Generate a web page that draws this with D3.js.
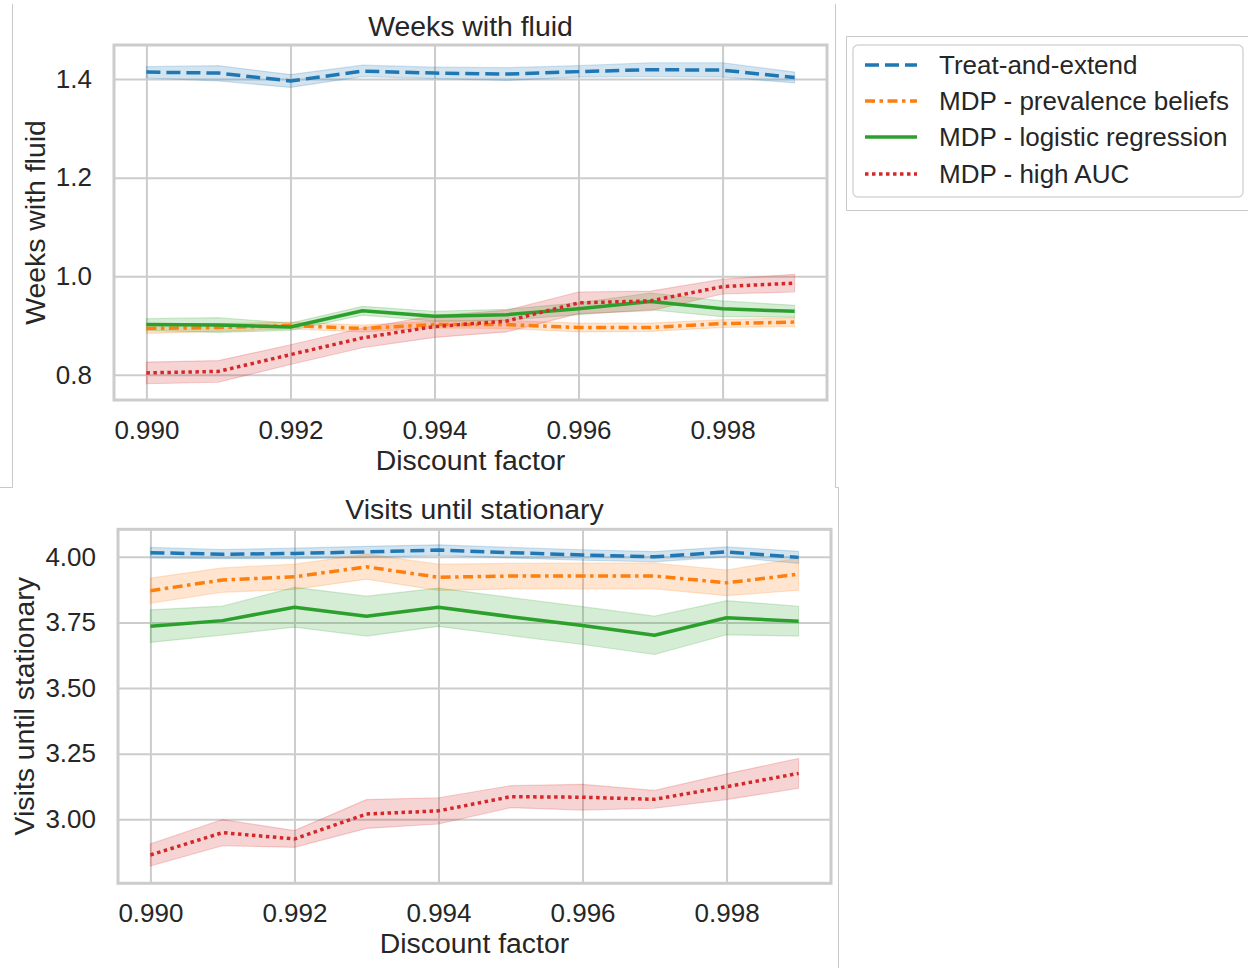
<!DOCTYPE html>
<html>
<head>
<meta charset="utf-8">
<script src="https://cdn.jsdelivr.net/npm/d3@7"></script>
<style>
  html, body { margin: 0; padding: 0; background: #ffffff; }
  svg { display: block; font-family: "Liberation Sans", Arial, sans-serif; }
</style>
</head>
<body>
<svg id="chart" width="1248" height="968"></svg>
<script>
// Discount factors on the x axis
const discount = [0.990, 0.991, 0.992, 0.993, 0.994, 0.995, 0.996, 0.997, 0.998, 0.999];
const xTicks = [0.990, 0.992, 0.994, 0.996, 0.998];

const seriesNames = ["Treat-and-extend", "MDP - prevalence beliefs", "MDP - logistic regression", "MDP - high AUC"];
const seriesColors = ["#1f77b4", "#ff7f0e", "#2ca02c", "#d62728"];
const seriesDashes = ["14,6", "10,4.5,3.5,4.5", null, "3.5,3.5"];

// Weeks with fluid: mean and confidence band per policy
const weeksTreatExtend   = [1.414, 1.412, 1.396, 1.416, 1.412, 1.410, 1.415, 1.419, 1.418, 1.403];
const weeksTreatExtendLo = [1.402, 1.396, 1.383, 1.405, 1.401, 1.397, 1.404, 1.405, 1.404, 1.392];
const weeksTreatExtendHi = [1.425, 1.427, 1.409, 1.428, 1.424, 1.423, 1.427, 1.433, 1.433, 1.414];

const weeksPrevalence   = [0.894, 0.896, 0.900, 0.894, 0.902, 0.902, 0.896, 0.896, 0.904, 0.907];
const weeksPrevalenceLo = [0.884, 0.888, 0.893, 0.887, 0.895, 0.894, 0.887, 0.888, 0.896, 0.898];
const weeksPrevalenceHi = [0.903, 0.904, 0.907, 0.901, 0.909, 0.910, 0.905, 0.905, 0.912, 0.916];

const weeksLogistic   = [0.902, 0.901, 0.897, 0.930, 0.919, 0.922, 0.934, 0.949, 0.934, 0.929];
const weeksLogisticLo = [0.890, 0.886, 0.890, 0.921, 0.909, 0.911, 0.922, 0.932, 0.918, 0.917];
const weeksLogisticHi = [0.914, 0.916, 0.905, 0.939, 0.929, 0.933, 0.946, 0.966, 0.950, 0.941];

const weeksHighAUC   = [0.804, 0.807, 0.841, 0.875, 0.898, 0.909, 0.946, 0.950, 0.979, 0.986];
const weeksHighAUCLo = [0.782, 0.785, 0.821, 0.855, 0.876, 0.887, 0.924, 0.930, 0.964, 0.968];
const weeksHighAUCHi = [0.826, 0.829, 0.861, 0.895, 0.920, 0.931, 0.968, 0.970, 0.994, 1.004];

const weeksTicks = [0.8, 1.0, 1.2, 1.4];

// Visits until stationary: mean and confidence band per policy
const visitsTreatExtend   = [4.016, 4.010, 4.013, 4.019, 4.026, 4.016, 4.007, 4.000, 4.019, 3.998];
const visitsTreatExtendLo = [3.996, 3.993, 3.993, 3.998, 4.006, 3.996, 3.987, 3.981, 4.000, 3.975];
const visitsTreatExtendHi = [4.036, 4.028, 4.033, 4.040, 4.046, 4.036, 4.027, 4.020, 4.038, 4.021];

const visitsPrevalence   = [3.871, 3.912, 3.924, 3.962, 3.922, 3.927, 3.927, 3.927, 3.901, 3.934];
const visitsPrevalenceLo = [3.823, 3.865, 3.876, 3.915, 3.872, 3.878, 3.878, 3.878, 3.852, 3.873];
const visitsPrevalenceHi = [3.919, 3.958, 3.972, 4.010, 3.972, 3.975, 3.976, 3.976, 3.950, 3.995];

const visitsLogistic   = [3.736, 3.757, 3.808, 3.774, 3.808, 3.772, 3.738, 3.701, 3.768, 3.755];
const visitsLogisticLo = [3.674, 3.702, 3.732, 3.698, 3.735, 3.700, 3.666, 3.628, 3.703, 3.698];
const visitsLogisticHi = [3.798, 3.812, 3.884, 3.850, 3.881, 3.845, 3.810, 3.774, 3.833, 3.812];

const visitsHighAUC   = [2.864, 2.949, 2.925, 3.020, 3.032, 3.086, 3.084, 3.076, 3.124, 3.175];
const visitsHighAUCLo = [2.822, 2.899, 2.893, 2.965, 2.982, 3.044, 3.035, 3.042, 3.075, 3.118];
const visitsHighAUCHi = [2.906, 2.999, 2.957, 3.075, 3.082, 3.128, 3.133, 3.110, 3.173, 3.232];

const visitsTicks = [3.00, 3.25, 3.50, 3.75, 4.00];

const TEXT = "#262626";
const GRID = "#cccccc";
const TICK_FONT = 26;
const LABEL_FONT = 28.4;

const svg = d3.select("#chart");

// Thin borders around the separate figure pieces
const borders = svg.append("g").attr("stroke", "#c9c9c9").attr("stroke-width", 1).attr("fill", "none");
[
  [12.5, 4, 12.5, 487.5], [0, 487.5, 12.5, 487.5],
  [835.5, 4, 835.5, 487.5], [835.5, 487.5, 838.5, 487.5], [838.5, 487.5, 838.5, 968],
  [846.5, 36.5, 1248, 36.5], [846.5, 36.5, 846.5, 210.5], [846.5, 210.5, 1248, 210.5]
].forEach(([x1, y1, x2, y2]) => borders.append("line").attr("x1", x1).attr("y1", y1).attr("x2", x2).attr("y2", y2));

function drawPanel(cfg) {
  const { left, right, top, bottom } = cfg.box;
  const w = right - left, h = bottom - top;
  const x = d3.scaleLinear().domain([0.99 - 0.00045, 0.999 + 0.00045]).range([left, right]);
  const y = d3.scaleLinear().domain(cfg.yDomain).range([bottom, top]);

  // Grid via axes
  const gx = svg.append("g").attr("transform", `translate(0,${bottom})`)
    .call(d3.axisBottom(x).tickValues(xTicks).tickSize(-h).tickPadding(20.5).tickFormat(d3.format(".3f")));
  const gy = svg.append("g").attr("transform", `translate(${left},0)`)
    .call(d3.axisLeft(y).tickValues(cfg.yTicks).tickSize(-w).tickPadding(22).tickFormat(d3.format(cfg.yFormat)));
  [gx, gy].forEach(g => {
    g.select(".domain").remove();
    g.selectAll(".tick line").attr("stroke", GRID).attr("stroke-width", 2);
    g.selectAll(".tick text").attr("fill", TEXT).style("font-size", TICK_FONT + "px")
      .style("font-family", '"Liberation Sans", Arial, sans-serif');
  });

  // Confidence bands and mean lines
  cfg.series.forEach((s, i) => {
    const pts = discount.map((d, k) => ({ x: d, m: s.mean[k], lo: s.lo[k], hi: s.hi[k] }));
    const area = d3.area().x(d => x(d.x)).y0(d => y(d.lo)).y1(d => y(d.hi));
    svg.append("path").attr("d", area(pts))
      .attr("fill", seriesColors[i]).attr("fill-opacity", 0.2)
      .attr("stroke", seriesColors[i]).attr("stroke-opacity", 0.2).attr("stroke-width", 1.2);
  });
  cfg.series.forEach((s, i) => {
    const pts = discount.map((d, k) => ({ x: d, m: s.mean[k] }));
    const line = d3.line().x(d => x(d.x)).y(d => y(d.m));
    const p = svg.append("path").attr("d", line(pts))
      .attr("fill", "none").attr("stroke", seriesColors[i]).attr("stroke-width", 3.5)
      .attr("stroke-linejoin", "round");
    if (seriesDashes[i]) p.attr("stroke-dasharray", seriesDashes[i]);
  });

  // Frame
  svg.append("rect").attr("x", left).attr("y", top).attr("width", w).attr("height", h)
    .attr("fill", "none").attr("stroke", GRID).attr("stroke-width", 3);

  // Title and axis labels
  svg.append("text").attr("x", (left + right) / 2).attr("y", cfg.titleY)
    .attr("text-anchor", "middle").attr("fill", TEXT).style("font-size", LABEL_FONT + "px").text(cfg.title);
  svg.append("text").attr("x", (left + right) / 2).attr("y", cfg.xLabelY)
    .attr("text-anchor", "middle").attr("fill", TEXT).style("font-size", LABEL_FONT + "px").text("Discount factor");
  svg.append("text").attr("transform", `translate(${cfg.yLabelX},${(top + bottom) / 2}) rotate(-90)`)
    .attr("text-anchor", "middle").attr("fill", TEXT).style("font-size", LABEL_FONT + "px").text(cfg.yLabel);
}

drawPanel({
  box: { left: 114, right: 827, top: 45, bottom: 400 },
  yDomain: [0.749, 1.469], yTicks: weeksTicks, yFormat: ".1f",
  title: "Weeks with fluid", titleY: 36, xLabelY: 470, yLabel: "Weeks with fluid", yLabelX: 45,
  series: [
    { mean: weeksTreatExtend, lo: weeksTreatExtendLo, hi: weeksTreatExtendHi },
    { mean: weeksPrevalence, lo: weeksPrevalenceLo, hi: weeksPrevalenceHi },
    { mean: weeksLogistic, lo: weeksLogisticLo, hi: weeksLogisticHi },
    { mean: weeksHighAUC, lo: weeksHighAUCLo, hi: weeksHighAUCHi }
  ]
});

drawPanel({
  box: { left: 118, right: 831, top: 529.3, bottom: 883.3 },
  yDomain: [2.756, 4.105], yTicks: visitsTicks, yFormat: ".2f",
  title: "Visits until stationary", titleY: 519, xLabelY: 953, yLabel: "Visits until stationary", yLabelX: 33.5,
  series: [
    { mean: visitsTreatExtend, lo: visitsTreatExtendLo, hi: visitsTreatExtendHi },
    { mean: visitsPrevalence, lo: visitsPrevalenceLo, hi: visitsPrevalenceHi },
    { mean: visitsLogistic, lo: visitsLogisticLo, hi: visitsLogisticHi },
    { mean: visitsHighAUC, lo: visitsHighAUCLo, hi: visitsHighAUCHi }
  ]
});

// Legend
const legend = svg.append("g");
legend.append("rect").attr("x", 853).attr("y", 45).attr("width", 390).attr("height", 152)
  .attr("rx", 5).attr("fill", "#ffffff").attr("stroke", "#d6d6d6").attr("stroke-width", 1.5);
const rowY = [65, 101, 137, 174];
seriesNames.forEach((name, i) => {
  const l = legend.append("line").attr("x1", 865).attr("x2", 917).attr("y1", rowY[i]).attr("y2", rowY[i])
    .attr("stroke", seriesColors[i]).attr("stroke-width", 3.5);
  if (seriesDashes[i]) l.attr("stroke-dasharray", seriesDashes[i]);
  legend.append("text").attr("x", 939).attr("y", rowY[i]).attr("dy", "0.35em")
    .attr("fill", TEXT).style("font-size", TICK_FONT + "px").text(name);
});
</script>
</body>
</html>
